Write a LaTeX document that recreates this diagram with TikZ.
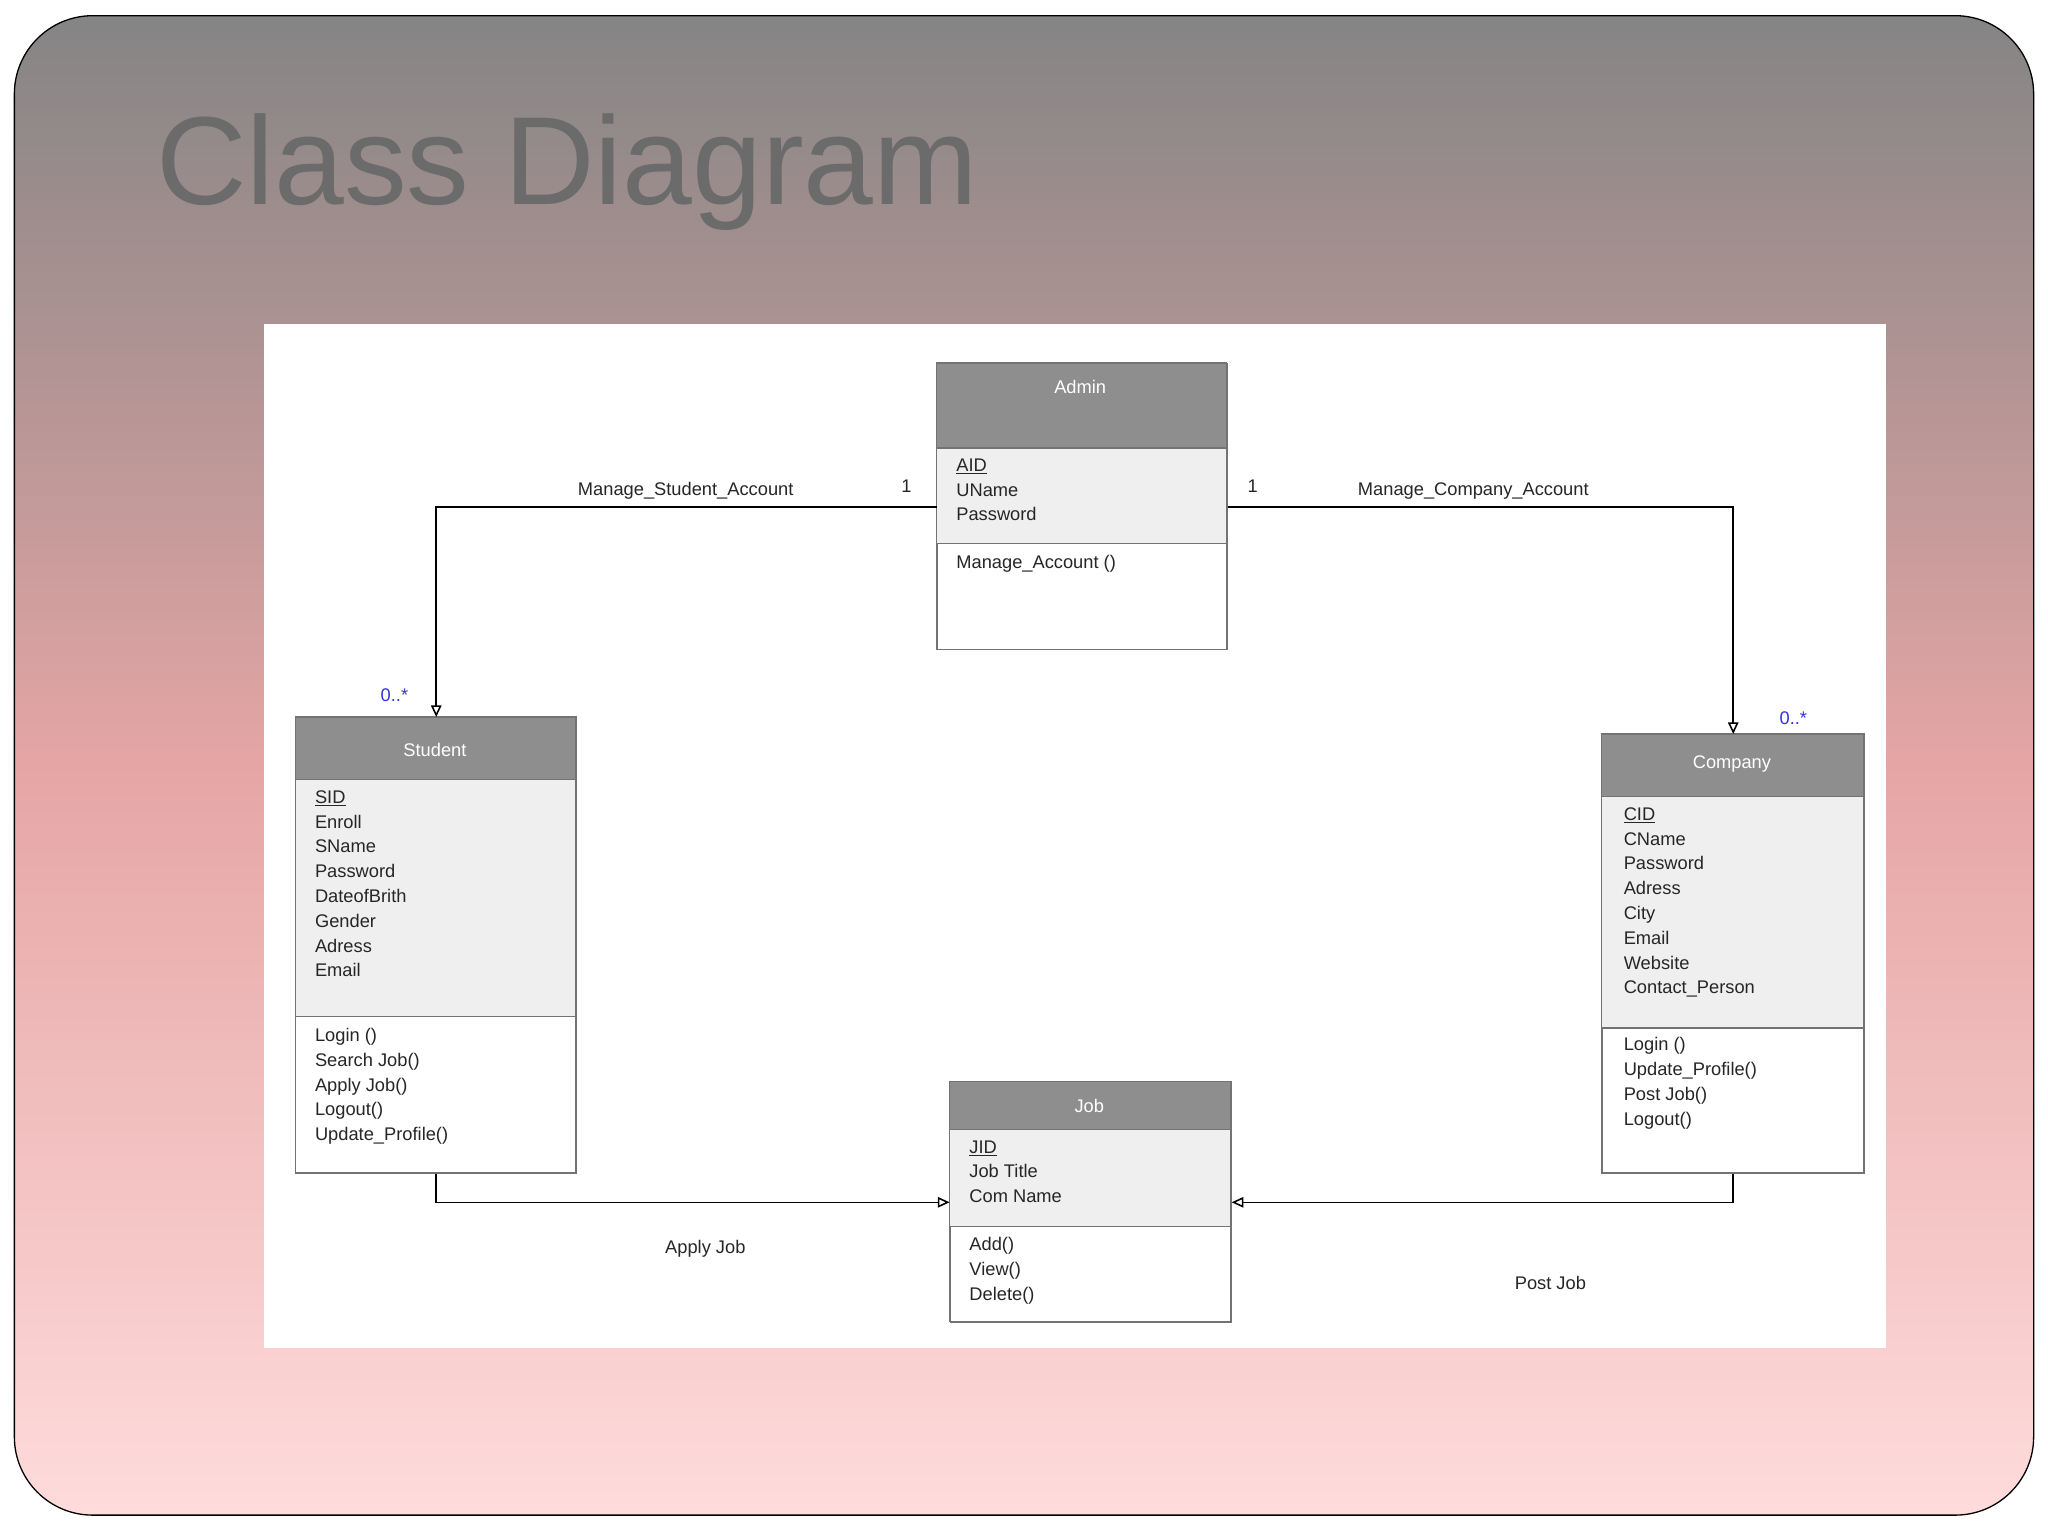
\documentclass[tikz,border=0pt]{standalone}
\usepackage{fontspec}
\setmainfont{Liberation Sans}
\usetikzlibrary{arrows.meta}
\definecolor{hdr}{HTML}{8E8E8E}
\definecolor{attr}{HTML}{EFEFEF}
\definecolor{mult}{HTML}{3333DD}
\tikzset{
 box/.style={draw=black!55,line width=1pt,fill=white,anchor=north west,inner sep=0},
 hdrtxt/.style={text=white,font=\fontsize{14}{17}\selectfont},
 lst/.style={anchor=north west,align=left,inner sep=0,font=\fontsize{14}{19}\selectfont,text=black!85},
 lbl/.style={font=\fontsize{14}{17}\selectfont,text=black!85},
 mul/.style={font=\fontsize{14}{17}\selectfont,text=mult},
 assoc/.style={line width=1.2pt,-{Triangle[open,length=9pt,width=8pt,fill=white]}}
}
\begin{document}
\begin{tikzpicture}[x=1pt,y=-1pt]
\useasboundingbox (0,0) rectangle (1568,1176);
\shade[top color=black!48, bottom color=red!14, middle color=red!28!white!90!black, draw=black, line width=1pt, rounded corners=60] (11,12) rectangle (1557,1160);
\node[anchor=west,text=black!58,font=\fontsize{96}{100}\selectfont] (title) at (116,132) {Class Diagram};
\fill[white] (202,248) rectangle (1444,1032);
% class boxes
\newcommand\umlclass[8]{% name, x, y, w, h, headerbottom, attrbottom, label
 \node[box,minimum width=#4,minimum height=#5] (#1) at (#2,#3) {};
 \fill[hdr] (#2,#3) rectangle ({#2+#4},#6);
 \fill[attr] (#2,#6) rectangle ({#2+#4},#7);
 \draw[black!55,line width=1pt] (#2,#6) -- ({#2+#4},#6) (#2,#7) -- ({#2+#4},#7);
 \draw[black!55,line width=1pt] (#2,#3) rectangle ({#2+#4},{#3+#5});
}
\umlclass{admin}{717}{278}{222}{219}{343}{416}{}
\umlclass{student}{226}{549}{215}{349}{597}{778}{}
\umlclass{company}{1226}{562}{201}{336}{610}{787}{}
\umlclass{job}{727}{828}{215}{184}{865}{939}{}
\node[hdrtxt] (adminh) at (827,296) {Admin};
\node[hdrtxt] (studenth) at (333,574) {Student};
\node[hdrtxt] (companyh) at (1326,585) {Company};
\node[hdrtxt] (jobh) at (834,847) {Job};
\node[lst] (admina) at (732,351) {\underline{AID}\\UName\\Password};
\node[lst] (adminm) at (732,425) {Manage\_Account ()};
\node[lst] (studenta) at (241,605) {\underline{SID}\\Enroll\\SName\\Password\\DateofBrith\\Gender\\Adress\\Email};
\node[lst] (studentm) at (241,787) {Login ()\\Search Job()\\Apply Job()\\Logout()\\Update\_Profile()};
\node[lst] (companya) at (1243,618) {\underline{CID}\\CName\\Password\\Adress\\City\\Email\\Website\\Contact\_Person};
\node[lst] (companym) at (1243,794) {Login ()\\Update\_Profile()\\Post Job()\\Logout()};
\node[lst] (joba) at (742,873) {\underline{JID}\\Job Title\\Com Name};
\node[lst] (jobm) at (742,947) {Add()\\View()\\Delete()};
% connectors
\draw[assoc] (admin.west) -| (student.north);
\draw[assoc] (admin.east) -| (company.north);
\draw[assoc] (student.south) |- (job.west);
\draw[assoc] (company.south) |- (job.east);
\node[lbl] (l1) at (525,376) {Manage\_Student\_Account};
\node[lbl] (l2) at (1128,376) {Manage\_Company\_Account};
\node[lbl] (l3) at (540,956) {Apply Job};
\node[lbl] (l4) at (1187,982) {Post Job};
\node[lbl] (m1) at (694,372) {1};
\node[lbl] (m2) at (959,372) {1};
\node[mul] (m3) at (302,532) {0..*};
\node[mul] (m4) at (1373,550) {0..*};
\end{tikzpicture}
\end{document}
